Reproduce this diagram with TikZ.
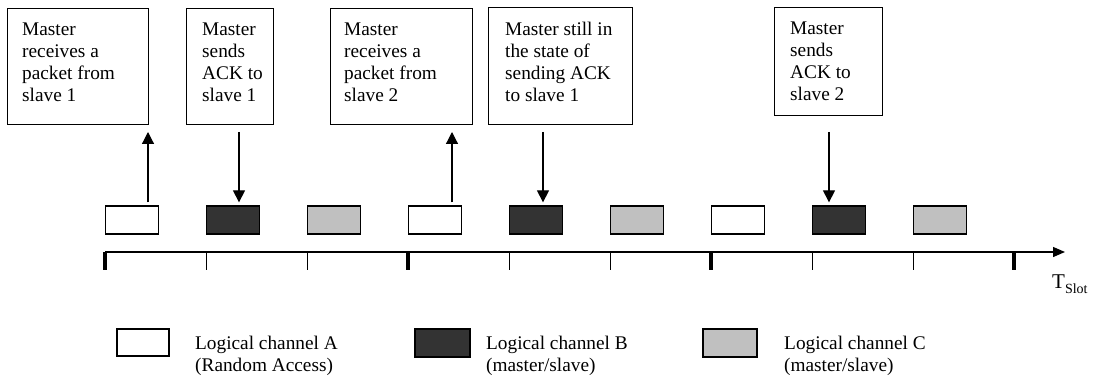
\documentclass[tikz,border=0pt]{standalone}
\usepackage{fontspec}
\setmainfont{Liberation Serif}
\usepackage{tikz}
\usetikzlibrary{arrows.meta, calc}

\definecolor{chdark}{HTML}{333333}
\definecolor{chgray}{HTML}{C0C0C0}
\newcommand{\msgfont}{\fontsize{19.3}{22}\selectfont}

\begin{document}
\begin{tikzpicture}[x=1pt, y=-1pt,
    msgbox/.style={draw, line width=1.3pt, anchor=north west, inner sep=0pt},
    msgtext/.style={anchor=north west, inner sep=0pt, align=left, font=\msgfont},
    slotA/.style={draw, line width=1.3pt, fill=white, minimum width=53pt, minimum height=28pt, inner sep=0pt},
    slotB/.style={slotA, fill=chdark},
    slotC/.style={slotA, fill=chgray},
    sig/.style={line width=1.2pt, -{Triangle[length=12pt, width=12pt]}}]
  % Fixed frame so the margins match the page
  \useasboundingbox (0, 0) rectangle (1095, 385);

  % ----- Message boxes along the top -----
  \node[msgbox, minimum width=141pt, minimum height=116pt] (b1) at (7, 8) {};
  \node[msgbox, minimum width=87pt, minimum height=116pt] (b2) at (186, 8) {};
  \node[msgbox, minimum width=142pt, minimum height=116pt] (b3) at (330, 8) {};
  \node[msgbox, minimum width=144pt, minimum height=117pt] (b4) at (488, 7) {};
  \node[msgbox, minimum width=108pt, minimum height=108pt] (b5) at (774, 7) {};

  \node[msgtext] (m1) at ([shift={(15, 14.5)}]b1.north west) {Master\\receives a\\packet from\\slave 1};
  \node[msgtext] (m2) at ([shift={(16, 14.5)}]b2.north west) {Master\\sends\\ACK to\\slave 1};
  \node[msgtext] (m3) at ([shift={(14, 14.5)}]b3.north west) {Master\\receives a\\packet from\\slave 2};
  \node[msgtext] (m4) at ([shift={(17, 14.5)}]b4.north west) {Master still in\\the state of\\sending ACK\\to slave 1};
  \node[msgtext] (m5) at ([shift={(16, 14.5)}]b5.north west) {Master\\sends\\ACK to\\slave 2};

  % ----- Slots of the three logical channels -----
  \foreach \k/\ch in {0/A, 1/B, 2/C, 3/A, 4/B, 5/C, 6/A, 7/B, 8/C}
    \node[slot\ch] (s\k) at (132 + 101*\k, 220) {};

  % ----- Time axis with slot ticks (thick every third slot) -----
  \coordinate (t0) at (105, 252);
  \coordinate (tend) at (1065, 252);
  \draw[line width=1.3pt, -{Triangle[length=12pt, width=10pt]}] (t0) -- (tend);
  \foreach \k/\w in {0/4, 1/1, 2/1, 3/4, 4/1, 5/1, 6/4, 7/1, 8/1, 9/4}
    \draw[line width=\w pt] (105 + 101*\k, 252) -- ++(0, 18);
  \node[anchor=base west, inner sep=0pt, font=\fontsize{21}{24}\selectfont] (tslot) at (1052, 288)
    {T\raisebox{-5pt}{\fontsize{14}{16}\selectfont Slot}};

  % ----- Arrows between slots and messages -----
  \coordinate (p1) at (148, 132);
  \coordinate (p2) at (239, 132);
  \coordinate (p3) at (452, 132);
  \coordinate (p4) at (543, 132);
  \coordinate (p5) at (829, 132);
  \draw[sig, shorten <=3pt] (p1 |- s0.north) -- (p1);
  \draw[sig, shorten >=3pt] (p2) -- (p2 |- s1.north);
  \draw[sig, shorten <=3pt] (p3 |- s3.north) -- (p3);
  \draw[sig, shorten >=3pt] (p4) -- (p4 |- s4.north);
  \draw[sig, shorten >=3pt] (p5) -- (p5 |- s7.north);

  % ----- Legend -----
  \node[slotA, minimum width=52pt, minimum height=27pt] (l1) at (143, 342.5) {};
  \node[slotB, minimum width=55pt, minimum height=28pt] (l2) at (442.5, 343) {};
  \node[slotC, minimum width=54pt, minimum height=28pt] (l3) at (730, 343) {};
  \node[msgtext] (d1) at (195, 336) {Logical channel A\\(Random Access)};
  \node[msgtext] (d2) at (486, 336) {Logical channel B\\(master/slave)};
  \node[msgtext] (d3) at (784, 336) {Logical channel C\\(master/slave)};
\end{tikzpicture}
\end{document}
